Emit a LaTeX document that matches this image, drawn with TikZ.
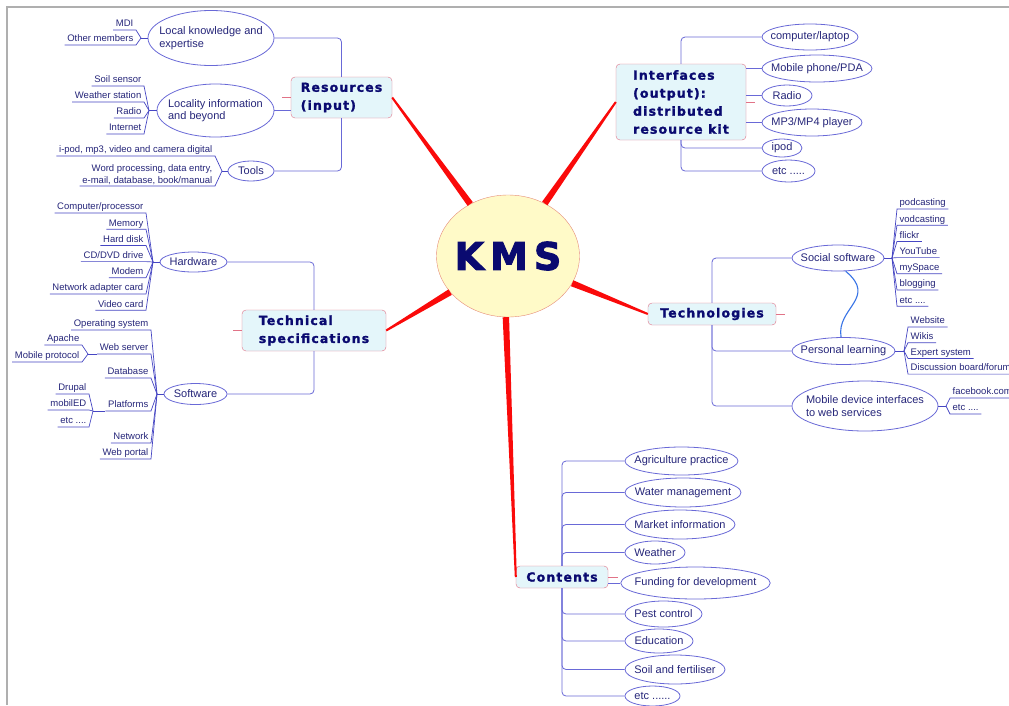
\documentclass[tikz,border=0pt]{standalone}
\usepackage{fontspec}
\usetikzlibrary{shapes.geometric}
\usetikzlibrary{calc}

\newfontfamily\leaffont{Liberation Sans}
\newfontfamily\topicfont[LetterSpace=9,FakeBold=1.6]{DejaVu Sans Bold}
\newfontfamily\kmsfont[LetterSpace=16,FakeBold=2.5]{DejaVu Sans Bold}

\definecolor{topicblue}{RGB}{10,10,112}
\definecolor{textblue}{RGB}{38,38,122}
\definecolor{lineblue}{RGB}{105,105,215}
\definecolor{twigblue}{RGB}{70,70,195}
\definecolor{relblue}{RGB}{55,115,230}
\definecolor{boxline}{RGB}{225,115,135}
\definecolor{boxfill}{RGB}{228,246,250}
\definecolor{kmsfill}{RGB}{255,250,200}
\definecolor{kmsline}{RGB}{230,140,120}
\definecolor{spokered}{RGB}{250,10,10}
\definecolor{framegray}{RGB}{175,175,175}

% tapered red spoke from the centre to a topic
\newcommand{\spoke}[2]{%
  \fill[spokered] ($(#1)!3.2pt!90:(#2)$) -- ($(#2)!1pt!-90:(#1)$)
    -- ($(#2)!1pt!90:(#1)$) -- ($(#1)!3.2pt!-90:(#2)$) -- cycle;}

\begin{document}
\begin{tikzpicture}[x=1pt,y=-1pt,
  kms/.style={ellipse, draw=kmsline, fill=kmsfill, inner xsep=-10pt, inner ysep=0pt,
    minimum width=143, minimum height=122, text=topicblue,
    font=\kmsfont\fontsize{38}{40}\selectfont},
  topic/.style={rectangle, rounded corners=4pt, draw=boxline, fill=boxfill,
    inner xsep=5pt, inner ysep=2pt, align=left, text=topicblue,
    font=\topicfont\fontsize{12.5}{18}\selectfont},
  sub/.style={ellipse, draw=lineblue, line width=0.8pt, fill=white,
    inner xsep=-8pt, inner ysep=0pt, align=left, text=textblue,
    font=\leaffont\fontsize{11}{12.5}\selectfont},
  leaf/.style={inner xsep=2.5pt, inner ysep=1.5pt, text height=7pt,
    text depth=1.5pt, text=textblue, font=\leaffont\fontsize{9.5}{12}\selectfont},
  branch/.style={draw=lineblue, line width=0.8pt, rounded corners=4pt},
  twig/.style={draw=twigblue, line width=0.7pt},
  stub/.style={draw=boxline, line width=0.9pt}]

  \useasboundingbox (0,0) rectangle (1009,705);
  \clip (0,0) rectangle (1009,705);
  \fill[white] (0,0) rectangle (1009,705);
  \draw[framegray, line width=1.5pt] (7,705) -- (7,7) -- (1009,7);

  % Centre
  \node[kms] (kms) at (508,256) {KMS};

  % Main topics
  \node[topic, minimum width=101, minimum height=41] (res) at (341.5,97.5) {Resources\\(input)};
  \node[topic, minimum width=130, minimum height=76] (ifc) at (681,102) {Interfaces\\(output):\\distributed\\resource kit};
  \node[topic, minimum width=128, minimum height=22] (tech) at (712,314) {Technologies};
  \node[topic, minimum width=144, minimum height=41] (spec) at (314,330.5) {Technical\\specifications};
  \node[topic, minimum width=92, minimum height=22] (con) at (562,577) {Contents};

  % Spokes
  \spoke{kms.126}{res.east}
  \spoke{kms.55}{ifc.west}
  \spoke{kms.-23}{tech.west}
  \spoke{kms.212}{spec.east}
  \spoke{kms.268}{con.west}
  \draw[stub] (res.west) -- ++(-9,0);
  \draw[stub] (ifc.east) -- ++(9,0);
  \draw[stub] (tech.east) -- ++(9,0);
  \draw[stub] (spec.west) -- ++(-9,0);
  \draw[stub] (con.east) -- ++(10,0);

  % Resources
  \node[sub, minimum width=126, minimum height=55] (lke) at (211,38) {Local knowledge and\\expertise};
  \node[sub, minimum width=117, minimum height=53] (loc) at (215.5,110.5) {Locality information\\and beyond};
  \node[sub, minimum width=46, minimum height=20] (tools) at (251,171) {Tools};
  \draw[branch] (lke.east) -| (res.north);
  \draw[branch] (loc.east) -- (loc.east -| res.west);
  \draw[branch] (tools.east) -| (res.south);

  \coordinate (jlke) at (141,38);
  \coordinate (jloc) at (149,110.5);
  \coordinate (jtools) at (222,171);
  \draw[twig] (jlke) -- (lke.west);
  \draw[twig] (jloc) -- (loc.west);
  \draw[twig] (jtools) -- (tools.west);
  \foreach \t/\y [count=\i] in {MDI/30, Other members/45} {
    \node[leaf, anchor=south east] (lke\i) at (136,\y) {\t};
    \draw[twig] (lke\i.south west) -- (lke\i.south east) -- (jlke);
  }
  \foreach \t/\y [count=\i] in {Soil sensor/86, Weather station/102, Radio/118, Internet/134} {
    \node[leaf, anchor=south east] (loc\i) at (144,\y) {\t};
    \draw[twig] (loc\i.south west) -- (loc\i.south east) -- (jloc);
  }
  \node[leaf, anchor=south east] (tools1) at (215,156) {i-pod, mp3, video and camera digital};
  \node[leaf, anchor=south east, align=right, text height=, text depth=] (tools2) at (215,186) {Word processing, data entry,\\e-mail, database, book/manual};
  \draw[twig] (tools1.south west) -- (tools1.south east) -- (jtools);
  \draw[twig] (tools2.south west) -- (tools2.south east) -- (jtools);

  % Interfaces
  \node[sub, minimum width=96, minimum height=26] (cl) at (810,37) {computer/laptop};
  \node[sub, minimum width=110, minimum height=27] (mp) at (817,68.5) {Mobile phone/PDA};
  \node[sub, minimum width=50, minimum height=21] (rad) at (787,95.5) {Radio};
  \node[sub, minimum width=100, minimum height=27] (mp3) at (812,122.5) {MP3/MP4 player};
  \node[sub, minimum width=40, minimum height=18] (ipod) at (782,148) {ipod};
  \node[sub, minimum width=53, minimum height=22] (etci) at (788.5,171) {etc .....};
  \draw[branch] (ifc.north) |- (cl.west);
  \draw[branch] (mp.west -| ifc.east) -- (mp.west);
  \draw[branch] (rad.west -| ifc.east) -- (rad.west);
  \draw[branch] (mp3.west -| ifc.east) -- (mp3.west);
  \draw[branch] (ifc.south) |- (ipod.west);
  \draw[branch] (ifc.south) |- (etci.west);

  % Technologies
  \node[sub, minimum width=92, minimum height=26] (soc) at (838,258) {Social software};
  \node[sub, minimum width=103, minimum height=27] (pers) at (843.5,351) {Personal learning};
  \node[sub, minimum width=146, minimum height=50] (mobi) at (865,406) {Mobile device interfaces\\to web services};
  \draw[branch] (tech.north) |- (soc.west);
  \draw[branch] (tech.south) |- (pers.west);
  \draw[branch] (tech.south) |- (mobi.west);
  \draw[relblue, line width=1.1pt] (soc.-60) .. controls (878,298) and (836,308) .. (pers.100);

  \coordinate (jsoc) at (892,258);
  \coordinate (jpers) at (904,351);
  \coordinate (jmobi) at (946,406);
  \draw[twig] (soc.east) -- (jsoc);
  \draw[twig] (pers.east) -- (jpers);
  \draw[twig] (mobi.east) -- (jmobi);
  \foreach \t [count=\i] in {podcasting, vodcasting, flickr, YouTube, mySpace, blogging, etc {....}} {
    \node[leaf, anchor=south west] (soc\i) at (897,{209+16.2*(\i-1)}) {\t};
    \draw[twig] (jsoc) -- (soc\i.south west) -- (soc\i.south east);
  }
  \foreach \t [count=\i] in {Website, Wikis, Expert system, Discussion board/forum} {
    \node[leaf, anchor=south west] (pers\i) at (908,{327+15.7*(\i-1)}) {\t};
    \draw[twig] (jpers) -- (pers\i.south west) -- (pers\i.south east);
  }
  \foreach \t [count=\i] in {facebook.com, etc {....}} {
    \node[leaf, anchor=south west] (mobi\i) at (950,{398+16*(\i-1)}) {\t};
    \draw[twig] (jmobi) -- (mobi\i.south west) -- (mobi\i.south east);
  }

  % Technical specifications
  \node[sub, minimum width=67, minimum height=20] (hw) at (193.5,262) {Hardware};
  \node[sub, minimum width=63, minimum height=21] (sw) at (195.5,394) {Software};
  \draw[branch] (hw.east) -| (spec.north);
  \draw[branch] (sw.east) -| (spec.south);

  \coordinate (jhw) at (153,262);
  \coordinate (jsw) at (157,394);
  \coordinate (jws) at (88,354);
  \coordinate (jpl) at (93,411);
  \draw[twig] (jhw) -- (hw.west);
  \draw[twig] (jsw) -- (sw.west);
  \foreach \t [count=\i] in {Computer/processor, Memory, Hard disk, CD/DVD drive, Modem, Network adapter card, Video card} {
    \node[leaf, anchor=south east] (hw\i) at (146,{213+16.2*(\i-1)}) {\t};
    \draw[twig] (hw\i.south west) -- (hw\i.south east) -- (jhw);
  }
  \foreach \t/\y [count=\i] in {Operating system/330, Web server/354, Database/378, Platforms/411, Network/443, Web portal/459} {
    \node[leaf, anchor=south east] (sw\i) at (151,\y) {\t};
    \draw[twig] (sw\i.south west) -- (sw\i.south east) -- (jsw);
  }
  \draw[twig] (jws) -- (sw2.south west);
  \draw[twig] (jpl) -- (sw4.south west);
  \foreach \t/\y [count=\i] in {Apache/345, Mobile protocol/362} {
    \node[leaf, anchor=south east] (ws\i) at (82,\y) {\t};
    \draw[twig] (ws\i.south west) -- (ws\i.south east) -- (jws);
  }
  \foreach \t/\y [count=\i] in {Drupal/394, mobilED/410, etc {....}/427} {
    \node[leaf, anchor=south east] (pl\i) at (89,\y) {\t};
    \draw[twig] (pl\i.south west) -- (pl\i.south east) -- (jpl);
  }

  % Contents
  \node[sub, minimum width=113, minimum height=28] (agr) at (681.5,461) {Agriculture practice};
  \node[sub, minimum width=116, minimum height=29] (wat) at (683,492.5) {Water management};
  \node[sub, minimum width=110, minimum height=29] (mkt) at (680,524.5) {Market information};
  \node[sub, minimum width=60, minimum height=23] (wea) at (655,552.5) {Weather};
  \node[sub, minimum width=141, minimum height=32] (fun) at (695.5,583) {Funding for development};
  \node[sub, minimum width=77, minimum height=26] (pest) at (663.5,614) {Pest control};
  \node[sub, minimum width=68, minimum height=24] (edu) at (659,641) {Education};
  \node[sub, minimum width=100, minimum height=29] (soil) at (675,669.5) {Soil and fertiliser};
  \node[sub, minimum width=55, minimum height=20] (etcc) at (652.5,696) {etc ......};
  \foreach \n in {agr, wat, mkt, wea}
    \draw[branch] (con.north) |- (\n.west);
  \draw[branch] (fun.west -| con.east) -- (fun.west);
  \foreach \n in {pest, edu, soil, etcc}
    \draw[branch] (con.south) |- (\n.west);
\end{tikzpicture}
\end{document}
